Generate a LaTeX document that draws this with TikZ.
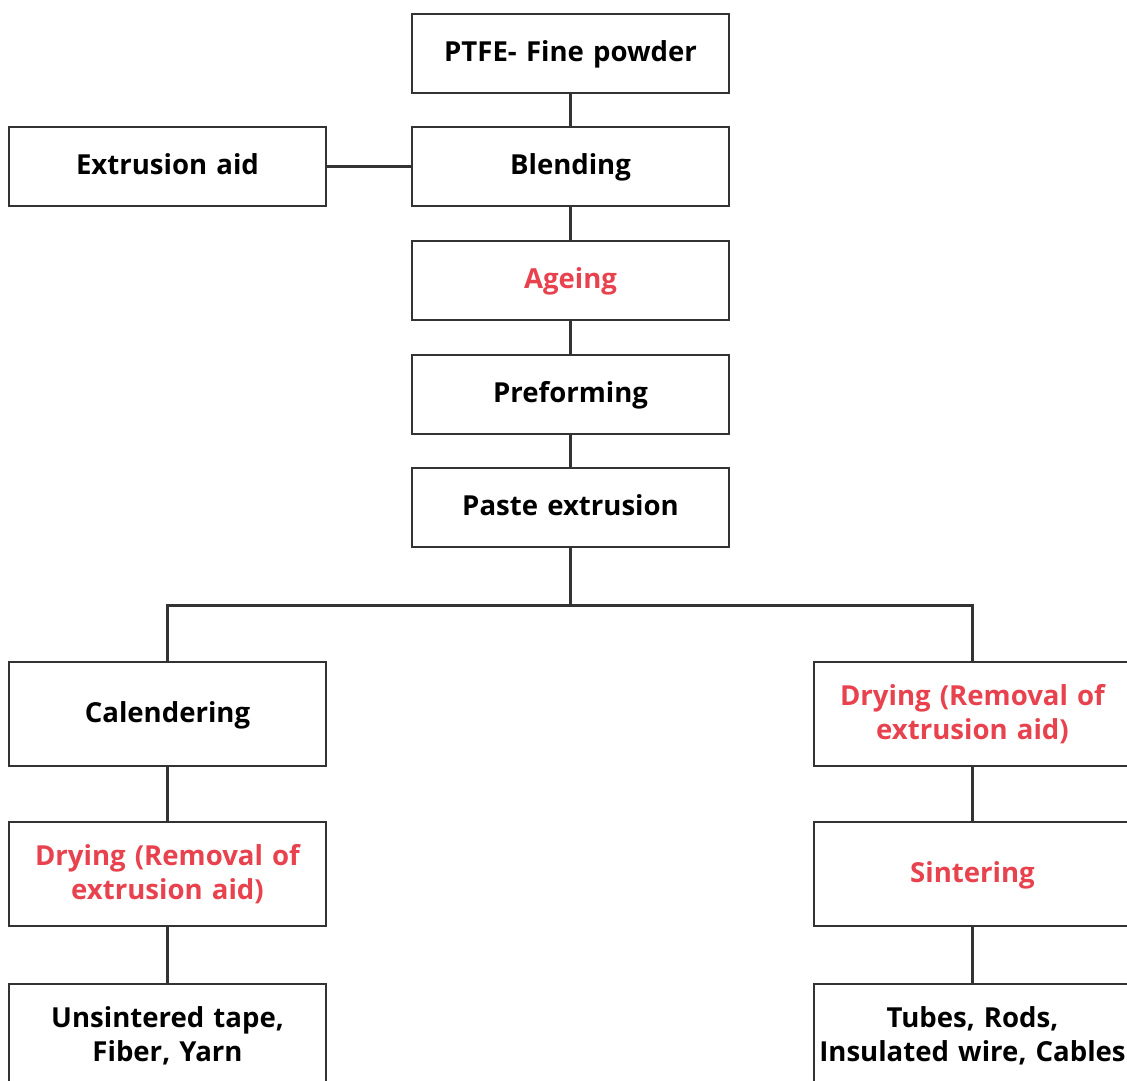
\documentclass[tikz,border=0pt]{standalone}
\usepackage{fontspec}
\setmainfont{Open Sans}
\usepackage{tikz}
\usetikzlibrary{positioning, calc}

\definecolor{linegray}{HTML}{333333}
\definecolor{stepred}{HTML}{E8424F}

\begin{document}
\begin{tikzpicture}[
    block/.style={draw=linegray, line width=1.8pt, fill=white, minimum width=7.925cm, minimum height=1.975cm, align=center, inner xsep=0pt, text width=7.85cm, text depth=0.3em, font=\fontsize{19.6}{24.5}\selectfont\bfseries, text=black},
    tallblock/.style={block, minimum height=2.6cm},
    twolines/.style={text depth=},
    redtext/.style={text=stepred},
    link/.style={draw=linegray, line width=1.8pt}
]
    \useasboundingbox (0,0) rectangle (28.175,-27.025);
    \clip (0,0) rectangle (28.175,-27.025);

    % Main column
    \node[block] (ptfe) at (14.2625,-1.3375) {PTFE- Fine powder};
    \node[block] (blend) at (14.2625,-4.1625) {Blending};
    \node[block, redtext] (ageing) at (14.2625,-7.0125) {Ageing};
    \node[block] (preform) at (14.2625,-9.8625) {Preforming};
    \node[block] (paste) at (14.2625,-12.6875) {Paste extrusion};

    % Side input
    \node[block] (aid) at (4.1875,-4.1625) {Extrusion aid};

    % Left branch
    \node[tallblock] (calend) at (4.1875,-17.85) {Calendering};
    \node[tallblock, twolines, redtext] (dryL) at (4.1875,-21.85) {Drying (Removal of\\extrusion aid)};
    \node[tallblock, twolines] (tape) at (4.1875,-25.9) {Unsintered tape,\\Fiber, Yarn};

    % Right branch
    \node[tallblock, twolines, redtext] (dryR) at (24.3125,-17.85) {Drying (Removal of\\extrusion aid)};
    \node[tallblock, redtext] (sinter) at (24.3125,-21.85) {Sintering};
    \node[tallblock, twolines] (tubes) at (24.3125,-25.9) {Tubes, Rods,\\Insulated wire, Cables};

    \coordinate (split) at ($(paste.south) + (0,-1.425)$);

    % Connectors
    \draw[link] (ptfe) -- (blend);
    \draw[link] (blend) -- (ageing);
    \draw[link] (ageing) -- (preform);
    \draw[link] (preform) -- (paste);
    \draw[link] (aid) -- (blend);
    \draw[link] (paste) -- (split);
    \draw[link] (calend.north) |- (split) -| (dryR.north);
    \draw[link] (calend) -- (dryL);
    \draw[link] (dryL) -- (tape);
    \draw[link] (dryR) -- (sinter);
    \draw[link] (sinter) -- (tubes);
\end{tikzpicture}
\end{document}
